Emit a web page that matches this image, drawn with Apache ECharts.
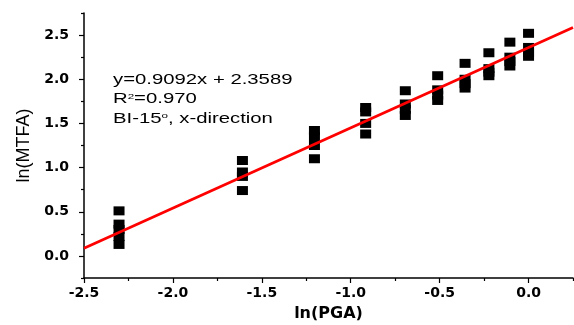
<!DOCTYPE html>
<html><head><meta charset="utf-8">
<script src="https://cdn.jsdelivr.net/npm/echarts@6/dist/echarts.min.js"></script>
<style>html,body{margin:0;padding:0;background:#fff}#c{width:574px;height:325px}</style>
</head><body><div id="c"></div>
<script>
// ln(PGA) levels (x) and ln(MTFA) values read at each level
const lnPGA = [-2.303, -1.609, -1.204, -0.916, -0.693, -0.511, -0.357, -0.223, -0.105, 0.0];
const mtfaG1 = [0.51, 0.36, 0.30, 0.22, 0.13];
const mtfaG2 = [1.08, 0.95, 0.90, 0.74];
const mtfaG3 = [1.42, 1.35, 1.25, 1.10];
const mtfaG4 = [1.68, 1.63, 1.50, 1.38];
const mtfaG5 = [1.87, 1.72, 1.66, 1.59];
const mtfaG6 = [2.04, 1.88, 1.82, 1.76];
const mtfaG7 = [2.18, 2.00, 1.95, 1.90];
const mtfaG8 = [2.30, 2.12, 2.08, 2.04];
const mtfaG9 = [2.42, 2.25, 2.20, 2.15];
const mtfaG10 = [2.52, 2.36, 2.30, 2.26];
// fitted line end points (y = 0.9092x + 2.3589)
const fitX = [-2.5, 0.25];
const fitY = [0.086, 2.586];
// ticks
const xTickLabels = [-2.5, -2.0, -1.5, -1.0, -0.5, 0.0];
const xMinorTicks = [-2.25, -1.75, -1.25, -0.75, -0.25, 0.25];
const yTickLabels = [0.0, 0.5, 1.0, 1.5, 2.0, 2.5];
const yMinorTicks = [-0.25, 0.25, 0.75, 1.25, 1.75, 2.25, 2.75];
const noteLines = ['y=0.9092x + 2.3589', 'R{sup|2}=0.970', 'BI-15{sup|o}, x-direction'];

const groups = [mtfaG1, mtfaG2, mtfaG3, mtfaG4, mtfaG5, mtfaG6, mtfaG7, mtfaG8, mtfaG9, mtfaG10];
const points = [];
groups.forEach((g, i) => g.forEach(v => points.push([lnPGA[i], v])));
const fitData = fitX.map((x, i) => [x, fitY[i]]);

const labelFont = {fontFamily: 'DejaVu Sans', fontWeight: 'bold', fontSize: 14, color: '#000'};
const fmt = v => Number(v).toFixed(1);

const chart = echarts.init(document.getElementById('c'), null, {renderer: 'canvas'});
chart.setOption({
  animation: false,
  backgroundColor: '#fff',
  grid: {left: 84, right: 1, top: 13, bottom: 47, containLabel: false, outerBoundsMode: 'none'},
  xAxis: [{
    type: 'value', min: -2.5, max: 0.25, interval: 0.5, position: 'bottom',
    axisLine: {show: true, onZero: false, lineStyle: {color: '#000', width: 1.5}},
    axisTick: {show: true, customValues: xTickLabels, length: 5, lineStyle: {color: '#000', width: 1.2}},
    axisLabel: Object.assign({customValues: xTickLabels, formatter: fmt, margin: 8}, labelFont),
    splitLine: {show: false},
    name: 'ln(PGA)', nameLocation: 'middle', nameGap: 28,
    nameTextStyle: {fontFamily: 'DejaVu Sans', fontWeight: 'bold', fontSize: 16, color: '#000'}
  }, {
    type: 'value', min: -2.5, max: 0.25, interval: 0.5, position: 'bottom',
    axisLine: {show: false, onZero: false},
    axisTick: {show: true, customValues: xMinorTicks, length: 3, lineStyle: {color: '#000', width: 1.2}},
    axisLabel: {show: false}, splitLine: {show: false}
  }],
  yAxis: [{
    type: 'value', min: -0.25, max: 2.75, interval: 0.25, position: 'left',
    axisLine: {show: true, onZero: false, lineStyle: {color: '#000', width: 1.5}},
    axisTick: {show: true, customValues: yTickLabels, length: 5, lineStyle: {color: '#000', width: 1.2}},
    axisLabel: Object.assign({customValues: yTickLabels, formatter: fmt, margin: 15}, labelFont),
    splitLine: {show: false},
    name: 'ln(MTFA)', nameLocation: 'middle', nameGap: 46,
    nameTextStyle: {fontFamily: 'Liberation Sans', fontSize: 18, color: '#000'}
  }, {
    type: 'value', min: -0.25, max: 2.75, interval: 0.25, position: 'left',
    axisLine: {show: false, onZero: false},
    axisTick: {show: true, customValues: yMinorTicks, length: 3, lineStyle: {color: '#000', width: 1.2}},
    axisLabel: {show: false}, splitLine: {show: false}
  }],
  series: [{
    type: 'scatter', xAxisIndex: 0, yAxisIndex: 0, data: points,
    symbol: 'rect', symbolSize: [11, 9], itemStyle: {color: '#000', opacity: 1}, z: 2
  }, {
    type: 'line', xAxisIndex: 0, yAxisIndex: 0, data: fitData, showSymbol: false, symbol: 'none',
    lineStyle: {color: '#ff0000', width: 2.8}, z: 3
  }],
  graphic: noteLines.map((t, i) => ({
    type: 'text', x: 113, y: 80 + i * 19.5, scaleX: 1.45, z: 10,
    style: {
      text: t, fill: '#000', fontFamily: 'Liberation Sans', fontSize: 14,
      verticalAlign: 'middle', align: 'left',
      rich: {sup: {fontSize: 8, verticalAlign: 'top', lineHeight: 8, fill: '#000', fontFamily: 'Liberation Sans'}}
    }
  }))
});
</script></body></html>
